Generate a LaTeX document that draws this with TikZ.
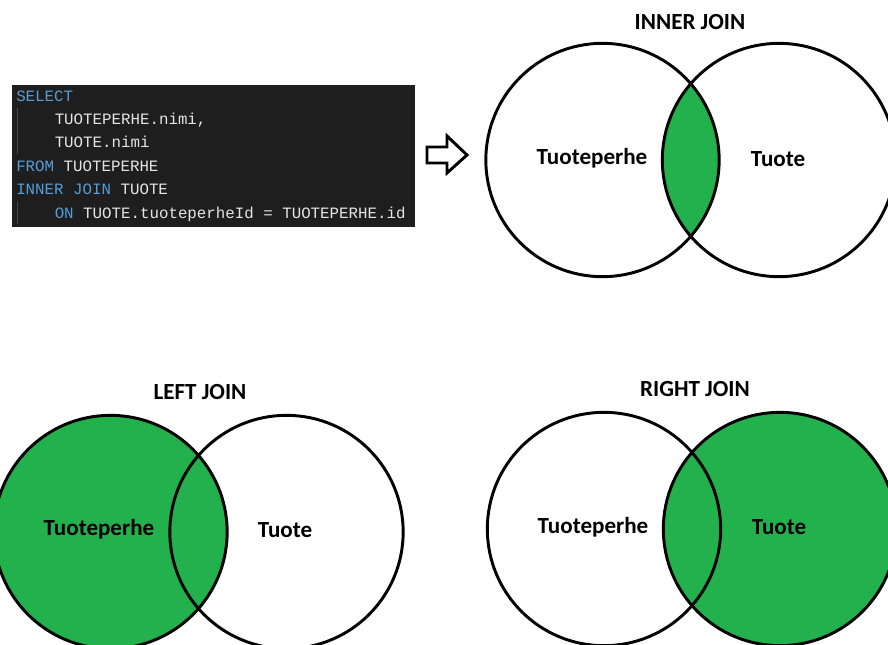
\documentclass[tikz,border=0pt]{standalone}
\usepackage{fontspec}
\setmainfont{Carlito}
\setmonofont{Liberation Mono}
\definecolor{venngreen}{RGB}{34,177,76}
\definecolor{codebg}{RGB}{30,30,30}
\definecolor{codekw}{RGB}{86,156,214}
\definecolor{codetx}{RGB}{228,228,228}
\definecolor{guide}{RGB}{70,70,70}
\begin{document}
\begin{tikzpicture}[x=0.75pt,y=-0.75pt,
  setc/.style={draw=black,line width=2.2pt,circle,minimum size=175pt,inner sep=0pt},
  lbl/.style={font=\bfseries\fontsize{17.3}{20}\selectfont,inner sep=0pt},
  ttl/.style={font=\bfseries\fontsize{17.3}{20}\selectfont,inner sep=0pt},
  codeln/.style={font=\ttfamily\fontsize{11.85}{14}\selectfont,text=codetx,anchor=base west,inner sep=0pt},
  kw/.style={text=codekw}]
\useasboundingbox (0,0) rectangle (888,644);
\clip (0,0) rectangle (888,644);
\fill[white] (0,0) rectangle (888,644);
% ---- code block
\node[fill=codebg,minimum width=302.25pt,minimum height=106.5pt,inner sep=0pt,anchor=north west] (code) at (12,85) {};
\draw[guide,line width=0.6pt] (17,108) -- (17,154);
\draw[guide,line width=0.6pt] (17,201) -- (17,224);
\node[codeln] (l1) at (16,101) {\textcolor{codekw}{SELECT}};
\node[codeln] (l2) at (54.5,124.4) {TUOTEPERHE.nimi,};
\node[codeln] (l3) at (54.5,147.8) {TUOTE.nimi};
\node[codeln] (l4) at (16,171.2) {\textcolor{codekw}{FROM} TUOTEPERHE};
\node[codeln] (l5) at (16,194.6) {\textcolor{codekw}{INNER JOIN} TUOTE};
\node[codeln] (l6) at (54.5,218) {\textcolor{codekw}{ON} TUOTE.tuoteperheId = TUOTEPERHE.id};
% ---- arrow
\draw[line width=2.2pt,line join=miter] (427,147) -- (447,147) -- (447,136) -- (467,155) -- (447,173) -- (447,163) -- (427,163) -- cycle;
% ---- INNER JOIN
\begin{scope}
  \clip (602.5,160) circle[radius=87.4pt];
  \fill[venngreen] (779,160) circle[radius=87.4pt];
\end{scope}
\node[setc] (ia) at (602.5,160) {};
\node[setc] (ib) at (779,160) {};
\node[ttl] (it) at (690,22) {INNER JOIN};
\node[lbl] (ial) at (592,158) {Tuoteperhe};
\node[lbl] (ibl) at (778,159) {Tuote};
% ---- LEFT JOIN
\fill[venngreen] (110.5,532) circle[radius=87.4pt];
\node[setc] (la) at (110.5,532) {};
\node[setc] (lb) at (286.5,532) {};
\node[ttl] (lt) at (200,392) {LEFT JOIN};
\node[lbl] (lal) at (99,529) {Tuoteperhe};
\node[lbl] (lbl2) at (285,530) {Tuote};
% ---- RIGHT JOIN
\fill[venngreen] (780,529) circle[radius=87.4pt];
\node[setc] (ra) at (604,529) {};
\node[setc] (rb) at (780,529) {};
\node[ttl] (rt) at (695,389) {RIGHT JOIN};
\node[lbl] (ral) at (593,527) {Tuoteperhe};
\node[lbl] (rbl) at (779,527) {Tuote};
\end{tikzpicture}
\end{document}
